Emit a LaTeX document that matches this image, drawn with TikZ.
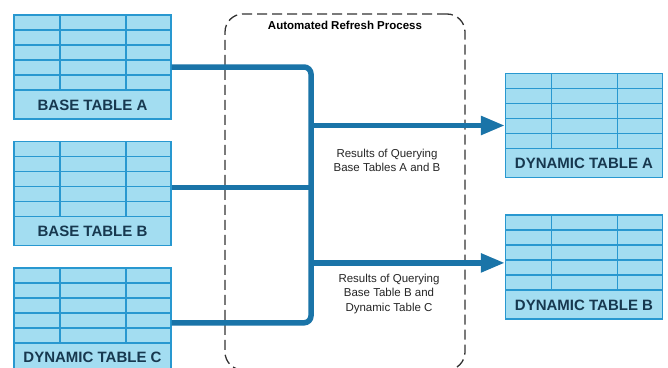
\documentclass[tikz,border=0pt]{standalone}
\usepackage{fontspec}
\setmainfont{Liberation Sans}
\usetikzlibrary{positioning,arrows.meta}
\definecolor{tabfill}{HTML}{A3DDF1}
\definecolor{tabline}{HTML}{2898D0}
\definecolor{tabtext}{HTML}{17384F}
\definecolor{flowblue}{HTML}{1A74A8}
\definecolor{dashgray}{HTML}{333333}

\begin{document}
\begin{tikzpicture}[x=1pt, y=-1pt,
  dbtable/.style={draw=tabline, fill=tabfill, line width=1.4pt, minimum width=157pt, minimum height=104pt, inner sep=0pt,
    path picture={
      \foreach \k in {1,...,5}
        \draw[tabline, line width=1.4pt] ([yshift={-15pt*\k}]path picture bounding box.north west) -- ([yshift={-15pt*\k}]path picture bounding box.north east);
      \foreach \c in {46pt,112pt}
        \draw[tabline, line width=1.4pt] ([xshift=\c]path picture bounding box.north west) -- ([xshift=\c, yshift=-75pt]path picture bounding box.north west);
    },
    label={[tablabel]south:#1}},
  tablabel/.style={anchor=south, minimum height=29pt, inner sep=0pt, text=tabtext, font=\fontsize{15}{18}\selectfont\bfseries},
  flow/.style={draw=flowblue, line width=5.5pt},
  feed/.style={flow, -{Triangle[length=24pt, width=18pt]}},
  refreshbox/.style={draw=dashgray, line width=1.3pt, dash pattern=on 10pt off 5pt, rounded corners=18pt, minimum width=240pt, minimum height=356pt},
  heading/.style={inner sep=0pt, font=\fontsize{11.5}{14}\selectfont\bfseries},
  note/.style={align=center, text=black!85, font=\fontsize{11.5}{14.5}\selectfont}]
\fill[white] (0,0) rectangle (668,367);
\useasboundingbox (0,0) rectangle (668,367);
\clip (0,0) rectangle (668,367);

\node[refreshbox] (refresh) at (345,192) {};
\node[heading, below=8pt of refresh.north] (title) {Automated Refresh Process};

\node[dbtable=BASE TABLE A] (baseA) at (92.5,67) {};
\node[dbtable=BASE TABLE B, below=21pt of baseA] (baseB) {};
\node[dbtable=DYNAMIC TABLE C, below=21pt of baseB] (dynC) {};
\node[dbtable=DYNAMIC TABLE A] (dynA) at (584,125.5) {};
\node[dbtable=DYNAMIC TABLE B, below=36pt of dynA] (dynB) {};

\coordinate (bus) at (311,0);
\coordinate (outB) at ([yshift=6pt]baseB.east);
\coordinate (outC) at ([yshift=-3pt]dynC.east);
\coordinate (inB) at ([yshift=4pt]dynB.west);

\draw[flow, rounded corners=7pt] (baseA.east) -- (baseA.east -| bus) -- (outC -| bus) -- (outC);
\draw[flow] (outB) -- (outB -| bus);
\draw[feed] (dynA.west -| bus) -- (dynA.west);
\draw[feed] (inB -| bus) -- (inB);

\node[note] (noteA) at (387,160.5) {Results of Querying\\Base Tables A and B};
\node[note] (noteB) at (389,294) {Results of Querying\\Base Table B and\\Dynamic Table C};
\end{tikzpicture}
\end{document}
